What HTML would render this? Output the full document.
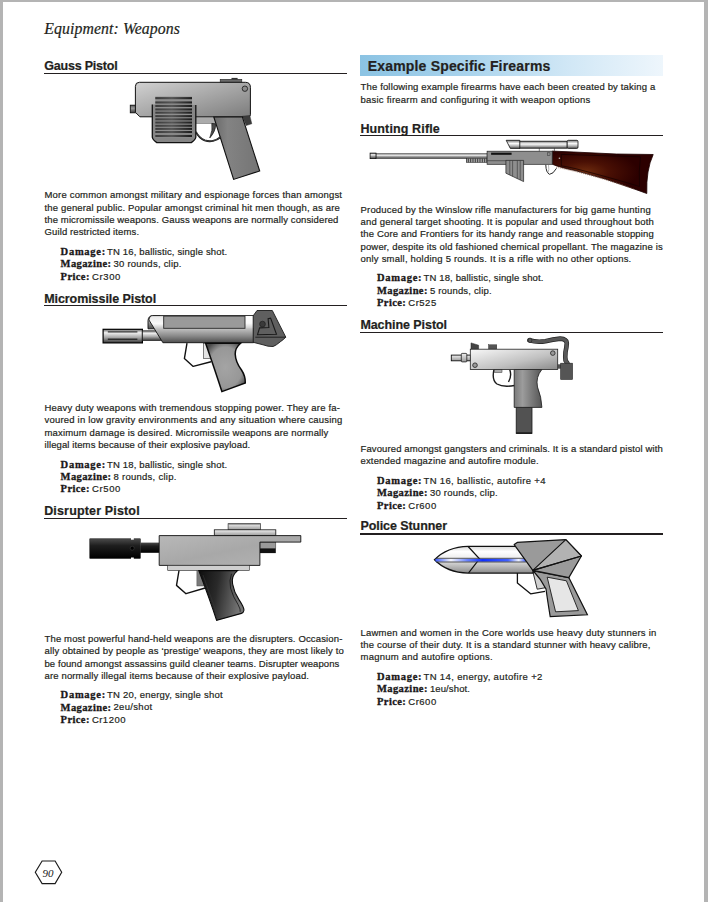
<!DOCTYPE html>
<html><head><meta charset="utf-8"><style>
html,body{margin:0;padding:0;}
body{width:708px;height:902px;position:relative;overflow:hidden;background:#fff;}
.t{position:absolute;white-space:nowrap;line-height:0;-webkit-text-stroke:0.2px #231f20;}
.r{position:absolute;}
.bl{position:absolute;background:#b4b4b4;}
svg{position:absolute;left:0;top:0;}
</style></head><body>
<div class="bl" style="left:0;top:0;width:708px;height:2px"></div>
<div class="bl" style="left:0;top:0;width:3px;height:902px"></div>
<div class="bl" style="left:704px;top:0;width:4px;height:902px"></div>
<svg width="708" height="902" viewBox="0 0 708 902">
<defs>
<linearGradient id="gaussBody" x1="0" y1="0" x2="1" y2="1"><stop offset="0" stop-color="#d2d2d2"/><stop offset="1" stop-color="#7c7c7c"/></linearGradient>
<linearGradient id="gaussGrip" x1="0" y1="0" x2="1" y2="0"><stop offset="0" stop-color="#6a6a6a"/><stop offset="0.3" stop-color="#838383"/><stop offset="1" stop-color="#747474"/></linearGradient>
<linearGradient id="muz" x1="0" y1="0" x2="0" y2="1"><stop offset="0" stop-color="#555"/><stop offset="0.4" stop-color="#9a9a9a"/><stop offset="1" stop-color="#3a3a3a"/></linearGradient>
<linearGradient id="grill" x1="0" y1="0" x2="1" y2="0"><stop offset="0" stop-color="#3a3a3a"/><stop offset="0.45" stop-color="#555"/><stop offset="1" stop-color="#1c1c1c"/></linearGradient>
<linearGradient id="mmTube" x1="0" y1="0" x2="0" y2="1"><stop offset="0" stop-color="#666"/><stop offset="0.25" stop-color="#f0f0f0"/><stop offset="0.6" stop-color="#a8a8a8"/><stop offset="1" stop-color="#333"/></linearGradient>
<linearGradient id="mmBody" x1="0" y1="0" x2="0" y2="1"><stop offset="0" stop-color="#e8e8e8"/><stop offset="0.3" stop-color="#fafafa"/><stop offset="0.5" stop-color="#bdbdbd"/><stop offset="0.75" stop-color="#8a8a8a"/><stop offset="1" stop-color="#4e4e4e"/></linearGradient>
<linearGradient id="mmTab" x1="0" y1="0" x2="0" y2="1"><stop offset="0" stop-color="#eee"/><stop offset="1" stop-color="#4a4a4a"/></linearGradient>
<linearGradient id="mmWhite" x1="0" y1="0" x2="0" y2="1"><stop offset="0" stop-color="#fff"/><stop offset="0.6" stop-color="#fafafa"/><stop offset="1" stop-color="#d0d0d0"/></linearGradient>
<radialGradient id="mmGrip" cx="0.5" cy="0.5" r="0.6"><stop offset="0" stop-color="#a4a4a4"/><stop offset="0.7" stop-color="#979797"/><stop offset="1" stop-color="#4a4a4a"/></radialGradient>
<linearGradient id="blk" x1="0" y1="0" x2="0" y2="1"><stop offset="0" stop-color="#4a4a4a"/><stop offset="0.35" stop-color="#1e1e1e"/><stop offset="1" stop-color="#000"/></linearGradient>
<linearGradient id="steel" x1="0" y1="0" x2="1" y2="1"><stop offset="0" stop-color="#b8b8b8"/><stop offset="0.5" stop-color="#a8a8a8"/><stop offset="1" stop-color="#b4b4b4"/></linearGradient>
<linearGradient id="steelV" x1="0" y1="0" x2="0" y2="1"><stop offset="0" stop-color="#f0f0f0"/><stop offset="1" stop-color="#9a9a9a"/></linearGradient>
<linearGradient id="disGrip" x1="0" y1="0" x2="1" y2="0.2"><stop offset="0" stop-color="#0e0e0e"/><stop offset="0.45" stop-color="#2a2a2a"/><stop offset="1" stop-color="#757575"/></linearGradient>
<linearGradient id="barrel" x1="0" y1="0" x2="0" y2="1"><stop offset="0" stop-color="#666"/><stop offset="0.3" stop-color="#f4f4f4"/><stop offset="0.6" stop-color="#9a9a9a"/><stop offset="1" stop-color="#444"/></linearGradient>
<linearGradient id="scope" x1="0" y1="0" x2="0" y2="1"><stop offset="0" stop-color="#6a6a6a"/><stop offset="0.15" stop-color="#a8a8a8"/><stop offset="0.4" stop-color="#fafafa"/><stop offset="0.7" stop-color="#b4b4b4"/><stop offset="1" stop-color="#555"/></linearGradient>
<radialGradient id="stock" gradientUnits="userSpaceOnUse" cx="585" cy="172" r="38" gradientTransform="translate(585 172) scale(1.4 0.6) rotate(18) translate(-585 -172)"><stop offset="0" stop-color="#6e2c0e"/><stop offset="0.45" stop-color="#4a1004"/><stop offset="1" stop-color="#2c0000"/></radialGradient>
<linearGradient id="mpBody" x1="0" y1="0" x2="1" y2="1"><stop offset="0" stop-color="#f8f8f8"/><stop offset="0.6" stop-color="#c0c0c0"/><stop offset="1" stop-color="#8a8a8a"/></linearGradient>
<linearGradient id="mpGrip" x1="0" y1="0" x2="1" y2="0"><stop offset="0" stop-color="#7a7a7a"/><stop offset="0.3" stop-color="#9c9c9c"/><stop offset="1" stop-color="#555"/></linearGradient>
<linearGradient id="stTube" x1="0" y1="0" x2="0" y2="1"><stop offset="0" stop-color="#d8d8d8"/><stop offset="0.2" stop-color="#fff"/><stop offset="0.5" stop-color="#e8e8e8"/><stop offset="1" stop-color="#8a8a8a"/></linearGradient>
<linearGradient id="blueL" x1="0" y1="0" x2="1" y2="0"><stop offset="0" stop-color="#3a5aff"/><stop offset="0.17" stop-color="#f4f6ff"/><stop offset="0.35" stop-color="#6a84ff"/><stop offset="0.52" stop-color="#1030ff"/><stop offset="0.8" stop-color="#4060ff"/><stop offset="0.92" stop-color="#f0f4ff"/><stop offset="1" stop-color="#3050ff"/></linearGradient>
</defs>

<!-- ============ GAUSS PISTOL ============ -->
<g id="gauss">
 <rect x="220.2" y="79.3" width="21.6" height="3.5" fill="#6a6a6a" stroke="#222" stroke-width="0.6"/>
 <rect x="231.5" y="77.9" width="6.1" height="1.6" fill="#333"/>
 <rect x="130.3" y="105.2" width="5.4" height="7.6" fill="url(#muz)" stroke="#111" stroke-width="0.9"/>
 <path d="M139.4,82.3 L245.4,82.3 Q250.4,82.3 250.4,87.3 L250.4,114.8 Q250.4,116.8 248.4,116.8 L139.9,116.8 L135.4,112.3 L135.4,86.3 Q135.4,82.3 139.4,82.3 Z" fill="url(#gaussBody)" stroke="#111" stroke-width="1.0"/>
 <circle cx="244.9" cy="88.7" r="2.7" fill="#8c8c8c" stroke="#222" stroke-width="0.9"/>
 <rect x="195.8" y="117.6" width="19.5" height="5.8" fill="#ababab" stroke="#555" stroke-width="0.5"/>
 <polygon points="242.4,116.2 249.8,115.4 251.8,123.8 246.1,125.6" fill="#3c3c3c" stroke="#222" stroke-width="0.4"/>
 <polygon points="213.8,117 242.4,117 259.7,171.0 233.6,179.4" fill="url(#gaussGrip)" stroke="#111" stroke-width="1.1"/>
 <path d="M211.8,123.4 L215.6,123.9 Q216,131 209.8,137.9 Q213,130 211.8,123.4 Z" fill="#4a4a4a" stroke="#111" stroke-width="0.7"/>
 <path d="M195.9,131.8 Q199,138 204.7,140.4 Q209,141.8 213,140.9 Q217.5,139.8 220.8,137" fill="none" stroke="#111" stroke-width="1.8"/><path d="M195.9,131.8 Q199,138 204.7,140.4 Q209,141.8 213,140.9 Q217.5,139.8 220.8,137" fill="none" stroke="#777" stroke-width="0.5"/>
 <path d="M152.3,104.4 L152.3,137.2 Q152.5,139.5 156.8,142.6 L191.3,142.6 Q195.6,139.5 195.8,137.2 L195.8,104.9" fill="#858585" stroke="#111" stroke-width="1.3"/>
 <rect x="155.3" y="96.6" width="36.7" height="41" fill="#8e8e8e"/>
 <g fill="url(#grill)">
  <rect x="155.3" y="97.1" width="36.7" height="2.1"/>
  <rect x="155.3" y="101.4" width="36.7" height="2.1"/>
  <rect x="155.3" y="104.9" width="36.7" height="2.1"/>
  <rect x="155.3" y="108.4" width="36.7" height="2.1"/>
  <rect x="155.3" y="111.6" width="36.7" height="2.1"/>
  <rect x="155.3" y="115.1" width="36.7" height="2.1"/>
  <rect x="155.3" y="118.3" width="36.7" height="2.1"/>
  <rect x="155.3" y="121.5" width="36.7" height="2.1"/>
  <rect x="155.3" y="124.7" width="36.7" height="2.1"/>
  <rect x="155.3" y="127.8" width="36.7" height="2.1"/>
  <rect x="155.3" y="131.0" width="36.7" height="2.1"/>
  <rect x="155.3" y="134.9" width="36.7" height="2.1"/>
 </g>
</g>

<!-- ============ MICROMISSILE PISTOL ============ -->
<g id="micro">
 <rect x="103.1" y="329.3" width="39.3" height="13.6" fill="url(#mmTube)" stroke="#000" stroke-width="1.2"/>
 <line x1="107.8" y1="331.9" x2="137.4" y2="331.9" stroke="#222" stroke-width="1.1"/>
 <line x1="107.8" y1="339.2" x2="137.4" y2="339.2" stroke="#111" stroke-width="1.1"/>
 <rect x="142.4" y="330.8" width="18.3" height="9.8" fill="url(#mmTube)" stroke="#222" stroke-width="0.7"/>
 <path d="M148,328.8 L148,320.5 Q148.5,315.6 152.7,315.6 L160,315.6 L160,328.8 Z" fill="url(#mmTab)" stroke="#111" stroke-width="0.9"/>
 <path d="M152.7,315.6 L253.6,315.6 L253.6,342.7 L162.9,342.7 L148.9,319.9 Q149.5,315.6 152.7,315.6 Z" fill="url(#mmBody)" stroke="#111" stroke-width="0.9"/>
 <rect x="245" y="316" width="8.6" height="12" fill="url(#mmWhite)"/>
 <rect x="163.7" y="316.1" width="81.3" height="12.2" fill="#9a9a9a" stroke="#2a2a2a" stroke-width="0.9"/>
 <path d="M257,310.5 L272.3,310.5 L285.8,337.2 Q283,340 280.8,341.4 Q276,345.5 273.1,346.5 Q268,346.8 263,344.8 L253.2,342.3 L253.2,315.8 Z" fill="#5f5f5f" stroke="#1a1a1a" stroke-width="0.9"/>
 <line x1="255.3" y1="337.2" x2="285.8" y2="337.2" stroke="#1a1a1a" stroke-width="0.9"/>
 <path d="M257.5,334.7 L259.6,327.9 L268.9,327.5 L268.1,318.6 L270.6,318.1 L276.5,334.2 Z" fill="none" stroke="#1a1a1a" stroke-width="1.1"/>
 <circle cx="262.5" cy="324.1" r="2.9" fill="#3a3a3a" stroke="#1a1a1a" stroke-width="0.6"/>
 <rect x="203.3" y="343.4" width="7" height="15.2" fill="#e4e4e4" stroke="#333" stroke-width="0.6"/>
 <polyline points="187,343.2 184.4,358.6 193.2,366.4 211,361.7" fill="none" stroke="#111" stroke-width="1.4" stroke-linejoin="round"/>
 <path d="M205.6,343.2 L240.6,343.2 Q235,348 235.2,354 Q235.5,362 241.5,370 Q245.5,376 245.3,383 L221.9,391.6 Q215,370 205.6,343.2 Z" fill="url(#mmGrip)" stroke="#0a0a0a" stroke-width="1.5"/>
</g>

<!-- ============ DISRUPTER PISTOL ============ -->
<g id="disrupter">
 <rect x="89.8" y="538.8" width="50.5" height="19.6" fill="url(#blk)" stroke="#000" stroke-width="0.5"/>
 <rect x="131" y="537.5" width="2.8" height="2.2" fill="#fff"/>
 <rect x="131" y="557.5" width="2.8" height="2.2" fill="#fff"/>
 <circle cx="132.2" cy="548.2" r="2" fill="#000" stroke="#555" stroke-width="0.4"/>
 <rect x="140.3" y="542.6" width="19.1" height="10.2" fill="url(#blk)"/>
 <rect x="259.9" y="542.1" width="15.9" height="6.4" fill="#9a9a9a" stroke="#333" stroke-width="0.5"/>
 <rect x="259.9" y="548.5" width="15.9" height="4.6" fill="#111"/>
 <rect x="228.1" y="523.7" width="32.4" height="6.1" fill="url(#steelV)" stroke="#333" stroke-width="0.7"/><line x1="228.1" y1="523.7" x2="260.5" y2="523.7" stroke="#666" stroke-width="1.4"/>
 <rect x="214.3" y="529.8" width="61.5" height="5.8" fill="url(#steelV)" stroke="#111" stroke-width="0.8"/>
 
 <path d="M159.2,535.6 L300.8,535.6 L300.8,542.1 L259.9,542.1 L259.9,565.4 L159.2,565.4 Z" fill="url(#steel)" stroke="#111" stroke-width="0.9"/>
 <rect x="167.7" y="565.4" width="81.6" height="5.1" fill="#cfcfcf" stroke="#222" stroke-width="0.6"/>
 <polyline points="179,570.5 176.5,585.4 186,593.7 205.1,588" fill="none" stroke="#111" stroke-width="1.4" stroke-linejoin="round"/>
 <rect x="196.9" y="570.5" width="7" height="15.5" fill="#7a7a7a" stroke="#333" stroke-width="0.4"/>
 <path d="M198.8,570.6 L237.5,570.6 Q231,576 232.6,584 Q234,592 238.8,599.4 Q244.5,608 243.9,610.5 Q243.5,612.8 241.4,613.4 L216.6,620.4 Q210,600 198.8,570.6 Z" fill="url(#disGrip)" stroke="#0a0a0a" stroke-width="1.1"/>
 <path d="M231.5,573.8 Q229,580 230.5,588 Q233,597 238,604.5 Q241,610 240.2,611.8" fill="none" stroke="#0a0a0a" stroke-width="0.7"/>
 <path d="M203,575 Q209,592 216,611" fill="none" stroke="#3a3a3a" stroke-width="0.5"/>
</g>

<!-- ============ HUNTING RIFLE ============ -->
<g id="rifle">
 <rect x="375.9" y="153.7" width="111.2" height="4.9" fill="url(#barrel)" stroke="#333" stroke-width="0.5"/>
 <rect x="370.1" y="153.1" width="5.9" height="5.5" fill="url(#barrel)" stroke="#111" stroke-width="0.8"/>
 <rect x="466.4" y="158.3" width="20.7" height="4.3" fill="#cfcfcf" stroke="#222" stroke-width="0.5"/>
 <g stroke="#2a2a2a" stroke-width="0.9"><line x1="466.90" y1="158.5" x2="466.90" y2="162.4"/><line x1="468.65" y1="158.5" x2="468.65" y2="162.4"/><line x1="470.40" y1="158.5" x2="470.40" y2="162.4"/><line x1="472.15" y1="158.5" x2="472.15" y2="162.4"/><line x1="473.90" y1="158.5" x2="473.90" y2="162.4"/><line x1="475.65" y1="158.5" x2="475.65" y2="162.4"/><line x1="477.40" y1="158.5" x2="477.40" y2="162.4"/><line x1="479.15" y1="158.5" x2="479.15" y2="162.4"/><line x1="480.90" y1="158.5" x2="480.90" y2="162.4"/><line x1="482.65" y1="158.5" x2="482.65" y2="162.4"/><line x1="484.40" y1="158.5" x2="484.40" y2="162.4"/><line x1="486.15" y1="158.5" x2="486.15" y2="162.4"/></g>
 <path d="M552.2,151.1 L573.9,152 L616.3,154 L653.2,154.5 Q646,170 646.8,193.5 L634.9,189.2 Q605,178 575,170.5 Q560,167.5 552.2,164.2 Z" fill="url(#stock)" stroke="#1a0000" stroke-width="0.8"/>
 <path d="M561.3,154.4 L640.5,156.8 Q638.5,172 639.5,186.5 Q612,178 575,168.5 Q566,166.5 561.3,165.8 Z" fill="none" stroke="#120000" stroke-width="0.7"/>
 <path d="M556,167.2 Q590,174 634.9,189.2" fill="none" stroke="#7a3a1a" stroke-width="0.6" stroke-dasharray="1,1"/>
 <circle cx="559.4" cy="158.3" r="0.8" fill="#bbb"/>
 <path d="M545.8,164.8 Q546,172.8 549.5,174.3 Q553,174.3 556.5,168.3" fill="none" stroke="#111" stroke-width="0.9"/>
 <path d="M548.5,165 Q549.5,170 547.8,173" fill="none" stroke="#999" stroke-width="0.7"/>
 <rect x="487.1" y="151.2" width="65.1" height="13.1" fill="#8e8e8e" stroke="#222" stroke-width="0.7"/>
 <line x1="487.1" y1="160.7" x2="506" y2="160.7" stroke="#333" stroke-width="0.6"/>
 <rect x="491.1" y="152.7" width="20.5" height="2.1" fill="#111"/>
 <rect x="547.4" y="152.8" width="2.6" height="2.6" fill="none" stroke="#333" stroke-width="0.5"/>
 <polygon points="505.9,160.4 523.6,160.4 523.6,181.6 505.9,173.2" fill="#8e8e8e" stroke="#222" stroke-width="0.7"/>
 <g stroke="#333" stroke-width="0.6"><line x1="509.8" y1="160.6" x2="509.8" y2="175"/><line x1="512.6" y1="160.6" x2="512.6" y2="176.4"/><line x1="517.3" y1="160.6" x2="517.3" y2="178.6"/><line x1="520.2" y1="160.6" x2="520.2" y2="180"/></g>
 <line x1="539.3" y1="148.2" x2="539.3" y2="151.2" stroke="#333" stroke-width="0.6"/>
 <line x1="554.4" y1="148.2" x2="554.4" y2="151.2" stroke="#333" stroke-width="0.6"/>
 <rect x="519.5" y="141.2" width="47.7" height="7" fill="url(#scope)" stroke="#111" stroke-width="0.8"/>
 <polygon points="506.2,140.3 519.8,140.3 519.8,148.4 510.3,148.4" fill="url(#scope)" stroke="#111" stroke-width="0.8"/>
 <rect x="567.2" y="140.3" width="10.8" height="8.1" rx="1.2" fill="url(#scope)" stroke="#111" stroke-width="0.8"/>
</g>

<!-- ============ MACHINE PISTOL ============ -->
<g id="mpistol">
 <path d="M529.3,340.3 Q537,342.5 545.4,341.2 Q553,339.5 560.2,338.6 Q566.5,339 566.8,343 Q566.5,348 565.5,352 Q565,357 565.6,360.5 L567.6,363.5" fill="none" stroke="#222" stroke-width="4.6" stroke-linecap="round" stroke-linejoin="round"/>
 <path d="M529.3,340.3 Q537,342.5 545.4,341.2 Q553,339.5 560.2,338.6 Q566.5,339 566.8,343 Q566.5,348 565.5,352 Q565,357 565.6,360.5 L567.6,363.5" fill="none" stroke="#585858" stroke-width="3.3" stroke-linecap="round" stroke-linejoin="round"/>
 <ellipse cx="530" cy="340.3" rx="1.8" ry="2.3" fill="#5a5a5a" stroke="#222" stroke-width="0.6"/>
 <rect x="451.3" y="355.1" width="19.2" height="5.7" fill="url(#steelV)" stroke="#111" stroke-width="0.9"/>
 <rect x="461.3" y="353.4" width="5.5" height="8.5" rx="0.8" fill="url(#steelV)" stroke="#222" stroke-width="0.8"/>
 <polygon points="471,349.5 471,342.9 478.6,345.2 478.6,349.5" fill="#444" stroke="#222" stroke-width="0.5"/>
 <rect x="488.5" y="344.8" width="8.3" height="4.6" fill="#555" stroke="#222" stroke-width="0.4"/>
 <rect x="557.7" y="364.3" width="3.2" height="4.4" fill="#555"/>
 <rect x="560.7" y="363.2" width="11.8" height="16.2" fill="#555" stroke="#222" stroke-width="0.6"/>
 <path d="M494,369.5 Q491.5,380 497,384 Q503,387.5 514.5,385.5" fill="none" stroke="#1a1a1a" stroke-width="1.4"/>
 <rect x="494.5" y="369.5" width="7.5" height="3" fill="#aaa" stroke="#333" stroke-width="0.5"/>
 <path d="M509.8,369.8 Q512,376 508.5,382" fill="none" stroke="#1a1a1a" stroke-width="1.4"/>
 <rect x="516.2" y="407.4" width="15.8" height="26" fill="#525252" stroke="#1a1a1a" stroke-width="0.8"/><line x1="516.2" y1="433" x2="532" y2="433" stroke="#111" stroke-width="1.2"/>
 <path d="M514.2,369.5 L541.9,369.5 Q535.5,377 537.5,387 Q541.5,397 541.9,407.4 L514.2,407.4 Z" fill="url(#mpGrip)" stroke="#1a1a1a" stroke-width="0.8"/>
 <rect x="470.3" y="349.2" width="87.4" height="20.3" fill="url(#mpBody)" stroke="#222" stroke-width="0.8"/>
 <circle cx="552.8" cy="353.1" r="2.3" fill="#9a9a9a" stroke="#222" stroke-width="0.8"/>
 <circle cx="475" cy="365.2" r="2.3" fill="#9a9a9a" stroke="#222" stroke-width="0.8"/>
</g>

<!-- ============ POLICE STUNNER ============ -->
<g id="stunner">
 <polyline points="517.4,572.5 517.4,583 530.6,593.8 545,591.4" fill="none" stroke="#111" stroke-width="1.3" stroke-linejoin="round"/>
 <polygon points="533,572.2 542.6,573.4 545,587.8 537.2,589.2" fill="#d0d0d0" stroke="#1a1a1a" stroke-width="0.9"/>
 <path d="M533.4,571 L568.8,577.6 L587.4,614.8 L550.2,616.6 Q547.5,600 546,589 Q541,579 533.4,571 Z" fill="#9a9a9a" stroke="#111" stroke-width="1.2"/>
 <polygon points="547.2,577.2 566.4,580.8 578.4,610.6 555.6,611.8" fill="#e6e6e6" stroke="#1a1a1a" stroke-width="0.9"/>
 <path d="M434.5,559.7 Q447,546.8 468.2,546.3 L533,546.3 L533,573.1 L468.2,573.1 Q447,572.5 434.5,559.7 Z" fill="url(#stTube)" stroke="#111" stroke-width="1.3"/>
 <polyline points="468.1,546.5 479.5,558.8 468.6,572.8" fill="none" stroke="#111" stroke-width="1.2"/>
 <rect x="435.5" y="558.7" width="90.5" height="3" fill="url(#blueL)"/>
 <line x1="436" y1="558.3" x2="526" y2="558.3" stroke="#333" stroke-width="0.8"/>
 <line x1="436" y1="562.0" x2="526" y2="562.0" stroke="#333" stroke-width="0.8"/>
 <polygon points="514.2,544.6 517.2,542.4 565.8,539.6 581.4,556 568.8,577.6 532.8,570.4" fill="#9a9a9a" stroke="#111" stroke-width="1.2" stroke-linejoin="round"/>
 <polygon points="532.8,570.4 565.8,539.6 581.4,556" fill="#b2b2b2" stroke="#111" stroke-width="1.1" stroke-linejoin="round"/>
 <line x1="532.8" y1="570.4" x2="581.4" y2="556" stroke="#111" stroke-width="1.1"/>
</g>

<!-- page number hexagon -->
<polygon points="42.1,861 55.1,861 61.7,872.3 55.1,883.6 42.1,883.6 35.3,872.3" fill="none" stroke="#1a1a1a" stroke-width="1.15"/>
</svg>

<div class="r" style="left:44.00px;top:72.70px;width:303.00px;height:1.2px;background:#231f20"></div>
<div class="r" style="left:44.00px;top:304.90px;width:303.00px;height:1.2px;background:#231f20"></div>
<div class="r" style="left:44.00px;top:517.70px;width:303.00px;height:1.2px;background:#231f20"></div>
<div class="r" style="left:360px;top:55px;width:303px;height:20.8px;background:linear-gradient(to right,#8bc3e3 0%,#a9d3ec 35%,#d2e8f6 70%,#eef6fc 100%)"></div>
<div class="r" style="left:360.20px;top:134.80px;width:302.80px;height:1.2px;background:#231f20"></div>
<div class="r" style="left:360.20px;top:332.00px;width:302.80px;height:1.2px;background:#231f20"></div>
<div class="r" style="left:360.20px;top:533.40px;width:302.80px;height:1.2px;background:#231f20"></div>
<div class="t" style="left:44.20px;top:29.07px;font-size:15.8px;font-family:'Liberation Serif', serif;font-weight:normal;font-style:italic;letter-spacing:0.095px;color:#231f20;">Equipment: Weapons</div>
<div class="t" style="left:44.20px;top:66.47px;font-size:12.5px;font-family:'Liberation Sans', sans-serif;font-weight:bold;font-style:normal;letter-spacing:-0.199px;color:#231f20;">Gauss Pistol</div>
<div class="t" style="left:44.50px;top:195.21px;font-size:9.5px;font-family:'Liberation Sans', sans-serif;font-weight:normal;font-style:normal;letter-spacing:0.185px;color:#231f20;">More common amongst military and espionage forces than amongst</div>
<div class="t" style="left:44.50px;top:207.61px;font-size:9.5px;font-family:'Liberation Sans', sans-serif;font-weight:normal;font-style:normal;letter-spacing:0.161px;color:#231f20;">the general public. Popular amongst criminal hit men though, as are</div>
<div class="t" style="left:44.50px;top:219.91px;font-size:9.5px;font-family:'Liberation Sans', sans-serif;font-weight:normal;font-style:normal;letter-spacing:0.124px;color:#231f20;">the micromissile weapons. Gauss weapons are normally considered</div>
<div class="t" style="left:44.50px;top:232.21px;font-size:9.5px;font-family:'Liberation Sans', sans-serif;font-weight:normal;font-style:normal;letter-spacing:0.122px;color:#231f20;">Guild restricted items.</div>
<div class="t" style="left:60.60px;top:252.26px;font-size:10.5px;font-family:'Liberation Serif', serif;font-weight:bold;font-style:normal;letter-spacing:0.730px;color:#1a1718;-webkit-text-stroke:0.3px #1a1718">Damage:</div>
<div class="t" style="left:107.10px;top:252.01px;font-size:9.5px;font-family:'Liberation Sans', sans-serif;font-weight:normal;font-style:normal;letter-spacing:0.153px;color:#231f20;">TN 16, ballistic, single shot.</div>
<div class="t" style="left:60.60px;top:264.06px;font-size:10.5px;font-family:'Liberation Serif', serif;font-weight:bold;font-style:normal;letter-spacing:0.398px;color:#1a1718;-webkit-text-stroke:0.3px #1a1718">Magazine:</div>
<div class="t" style="left:113.50px;top:263.81px;font-size:9.5px;font-family:'Liberation Sans', sans-serif;font-weight:normal;font-style:normal;letter-spacing:0.236px;color:#231f20;">30 rounds, clip.</div>
<div class="t" style="left:60.60px;top:276.86px;font-size:10.5px;font-family:'Liberation Serif', serif;font-weight:bold;font-style:normal;letter-spacing:0.403px;color:#1a1718;-webkit-text-stroke:0.3px #1a1718">Price:</div>
<div class="t" style="left:91.90px;top:276.61px;font-size:9.5px;font-family:'Liberation Sans', sans-serif;font-weight:normal;font-style:normal;letter-spacing:0.649px;color:#231f20;">Cr300</div>
<div class="t" style="left:44.20px;top:298.77px;font-size:12.5px;font-family:'Liberation Sans', sans-serif;font-weight:bold;font-style:normal;letter-spacing:-0.071px;color:#231f20;">Micromissile Pistol</div>
<div class="t" style="left:44.50px;top:408.01px;font-size:9.5px;font-family:'Liberation Sans', sans-serif;font-weight:normal;font-style:normal;letter-spacing:0.195px;color:#231f20;">Heavy duty weapons with tremendous stopping power. They are fa-</div>
<div class="t" style="left:44.50px;top:420.31px;font-size:9.5px;font-family:'Liberation Sans', sans-serif;font-weight:normal;font-style:normal;letter-spacing:0.204px;color:#231f20;">voured in low gravity environments and any situation where causing</div>
<div class="t" style="left:44.50px;top:432.61px;font-size:9.5px;font-family:'Liberation Sans', sans-serif;font-weight:normal;font-style:normal;letter-spacing:0.158px;color:#231f20;">maximum damage is desired. Micromissile weapons are normally</div>
<div class="t" style="left:44.50px;top:444.71px;font-size:9.5px;font-family:'Liberation Sans', sans-serif;font-weight:normal;font-style:normal;letter-spacing:0.104px;color:#231f20;">illegal items because of their explosive payload.</div>
<div class="t" style="left:60.60px;top:465.16px;font-size:10.5px;font-family:'Liberation Serif', serif;font-weight:bold;font-style:normal;letter-spacing:0.730px;color:#1a1718;-webkit-text-stroke:0.3px #1a1718">Damage:</div>
<div class="t" style="left:107.10px;top:464.91px;font-size:9.5px;font-family:'Liberation Sans', sans-serif;font-weight:normal;font-style:normal;letter-spacing:0.153px;color:#231f20;">TN 18, ballistic, single shot.</div>
<div class="t" style="left:60.60px;top:477.06px;font-size:10.5px;font-family:'Liberation Serif', serif;font-weight:bold;font-style:normal;letter-spacing:0.398px;color:#1a1718;-webkit-text-stroke:0.3px #1a1718">Magazine:</div>
<div class="t" style="left:113.50px;top:476.81px;font-size:9.5px;font-family:'Liberation Sans', sans-serif;font-weight:normal;font-style:normal;letter-spacing:0.265px;color:#231f20;">8 rounds, clip.</div>
<div class="t" style="left:60.60px;top:489.06px;font-size:10.5px;font-family:'Liberation Serif', serif;font-weight:bold;font-style:normal;letter-spacing:0.403px;color:#1a1718;-webkit-text-stroke:0.3px #1a1718">Price:</div>
<div class="t" style="left:91.90px;top:488.81px;font-size:9.5px;font-family:'Liberation Sans', sans-serif;font-weight:normal;font-style:normal;letter-spacing:0.649px;color:#231f20;">Cr500</div>
<div class="t" style="left:44.20px;top:511.47px;font-size:12.5px;font-family:'Liberation Sans', sans-serif;font-weight:bold;font-style:normal;letter-spacing:0.158px;color:#231f20;">Disrupter Pistol</div>
<div class="t" style="left:44.50px;top:639.01px;font-size:9.5px;font-family:'Liberation Sans', sans-serif;font-weight:normal;font-style:normal;letter-spacing:0.149px;color:#231f20;">The most powerful hand-held weapons are the disrupters. Occasion-</div>
<div class="t" style="left:44.50px;top:651.41px;font-size:9.5px;font-family:'Liberation Sans', sans-serif;font-weight:normal;font-style:normal;letter-spacing:0.165px;color:#231f20;">ally obtained by people as &#8216;prestige&#8217; weapons, they are most likely to</div>
<div class="t" style="left:44.50px;top:663.71px;font-size:9.5px;font-family:'Liberation Sans', sans-serif;font-weight:normal;font-style:normal;letter-spacing:0.076px;color:#231f20;">be found amongst assassins guild cleaner teams. Disrupter weapons</div>
<div class="t" style="left:44.50px;top:676.01px;font-size:9.5px;font-family:'Liberation Sans', sans-serif;font-weight:normal;font-style:normal;letter-spacing:0.146px;color:#231f20;">are normally illegal items because of their explosive payload.</div>
<div class="t" style="left:60.60px;top:695.26px;font-size:10.5px;font-family:'Liberation Serif', serif;font-weight:bold;font-style:normal;letter-spacing:0.730px;color:#1a1718;-webkit-text-stroke:0.3px #1a1718">Damage:</div>
<div class="t" style="left:107.10px;top:695.01px;font-size:9.5px;font-family:'Liberation Sans', sans-serif;font-weight:normal;font-style:normal;letter-spacing:0.211px;color:#231f20;">TN 20, energy, single shot</div>
<div class="t" style="left:60.60px;top:707.56px;font-size:10.5px;font-family:'Liberation Serif', serif;font-weight:bold;font-style:normal;letter-spacing:0.398px;color:#1a1718;-webkit-text-stroke:0.3px #1a1718">Magazine:</div>
<div class="t" style="left:113.50px;top:707.31px;font-size:9.5px;font-family:'Liberation Sans', sans-serif;font-weight:normal;font-style:normal;letter-spacing:0.317px;color:#231f20;">2eu/shot</div>
<div class="t" style="left:60.60px;top:719.86px;font-size:10.5px;font-family:'Liberation Serif', serif;font-weight:bold;font-style:normal;letter-spacing:0.403px;color:#1a1718;-webkit-text-stroke:0.3px #1a1718">Price:</div>
<div class="t" style="left:91.90px;top:719.61px;font-size:9.5px;font-family:'Liberation Sans', sans-serif;font-weight:normal;font-style:normal;letter-spacing:0.480px;color:#231f20;">Cr1200</div>
<div class="t" style="left:367.70px;top:65.65px;font-size:14px;font-family:'Liberation Sans', sans-serif;font-weight:bold;font-style:normal;letter-spacing:0.185px;color:#231f20;">Example Specific Firearms</div>
<div class="t" style="left:360.50px;top:87.01px;font-size:9.5px;font-family:'Liberation Sans', sans-serif;font-weight:normal;font-style:normal;letter-spacing:0.157px;color:#231f20;">The following example firearms have each been created by taking a</div>
<div class="t" style="left:360.50px;top:100.11px;font-size:9.5px;font-family:'Liberation Sans', sans-serif;font-weight:normal;font-style:normal;letter-spacing:0.231px;color:#231f20;">basic firearm and configuring it with weapon options</div>
<div class="t" style="left:360.40px;top:128.57px;font-size:12.5px;font-family:'Liberation Sans', sans-serif;font-weight:bold;font-style:normal;letter-spacing:0.132px;color:#231f20;">Hunting Rifle</div>
<div class="t" style="left:360.50px;top:209.81px;font-size:9.5px;font-family:'Liberation Sans', sans-serif;font-weight:normal;font-style:normal;letter-spacing:0.197px;color:#231f20;">Produced by the Winslow rifle manufacturers for big game hunting</div>
<div class="t" style="left:360.50px;top:222.11px;font-size:9.5px;font-family:'Liberation Sans', sans-serif;font-weight:normal;font-style:normal;letter-spacing:0.186px;color:#231f20;">and general target shooting. It is popular and used throughout both</div>
<div class="t" style="left:360.50px;top:234.31px;font-size:9.5px;font-family:'Liberation Sans', sans-serif;font-weight:normal;font-style:normal;letter-spacing:0.157px;color:#231f20;">the Core and Frontiers for its handy range and reasonable stopping</div>
<div class="t" style="left:360.50px;top:246.61px;font-size:9.5px;font-family:'Liberation Sans', sans-serif;font-weight:normal;font-style:normal;letter-spacing:0.153px;color:#231f20;">power, despite its old fashioned chemical propellant. The magazine is</div>
<div class="t" style="left:360.50px;top:258.91px;font-size:9.5px;font-family:'Liberation Sans', sans-serif;font-weight:normal;font-style:normal;letter-spacing:0.217px;color:#231f20;">only small, holding 5 rounds. It is a rifle with no other options.</div>
<div class="t" style="left:377.00px;top:278.46px;font-size:10.5px;font-family:'Liberation Serif', serif;font-weight:bold;font-style:normal;letter-spacing:0.730px;color:#1a1718;-webkit-text-stroke:0.3px #1a1718">Damage:</div>
<div class="t" style="left:423.50px;top:278.21px;font-size:9.5px;font-family:'Liberation Sans', sans-serif;font-weight:normal;font-style:normal;letter-spacing:0.149px;color:#231f20;">TN 18, ballistic, single shot.</div>
<div class="t" style="left:377.00px;top:290.76px;font-size:10.5px;font-family:'Liberation Serif', serif;font-weight:bold;font-style:normal;letter-spacing:0.398px;color:#1a1718;-webkit-text-stroke:0.3px #1a1718">Magazine:</div>
<div class="t" style="left:429.90px;top:290.51px;font-size:9.5px;font-family:'Liberation Sans', sans-serif;font-weight:normal;font-style:normal;letter-spacing:0.180px;color:#231f20;">5 rounds, clip.</div>
<div class="t" style="left:377.00px;top:303.06px;font-size:10.5px;font-family:'Liberation Serif', serif;font-weight:bold;font-style:normal;letter-spacing:0.403px;color:#1a1718;-webkit-text-stroke:0.3px #1a1718">Price:</div>
<div class="t" style="left:408.30px;top:302.81px;font-size:9.5px;font-family:'Liberation Sans', sans-serif;font-weight:normal;font-style:normal;letter-spacing:0.499px;color:#231f20;">Cr525</div>
<div class="t" style="left:360.40px;top:325.27px;font-size:12.5px;font-family:'Liberation Sans', sans-serif;font-weight:bold;font-style:normal;letter-spacing:-0.068px;color:#231f20;">Machine Pistol</div>
<div class="t" style="left:360.50px;top:448.91px;font-size:9.5px;font-family:'Liberation Sans', sans-serif;font-weight:normal;font-style:normal;letter-spacing:0.117px;color:#231f20;">Favoured amongst gangsters and criminals. It is a standard pistol with</div>
<div class="t" style="left:360.50px;top:461.21px;font-size:9.5px;font-family:'Liberation Sans', sans-serif;font-weight:normal;font-style:normal;letter-spacing:0.159px;color:#231f20;">extended magazine and autofire module.</div>
<div class="t" style="left:377.00px;top:481.16px;font-size:10.5px;font-family:'Liberation Serif', serif;font-weight:bold;font-style:normal;letter-spacing:0.730px;color:#1a1718;-webkit-text-stroke:0.3px #1a1718">Damage:</div>
<div class="t" style="left:423.50px;top:480.91px;font-size:9.5px;font-family:'Liberation Sans', sans-serif;font-weight:normal;font-style:normal;letter-spacing:0.330px;color:#231f20;">TN 16, ballistic, autofire +4</div>
<div class="t" style="left:377.00px;top:493.16px;font-size:10.5px;font-family:'Liberation Serif', serif;font-weight:bold;font-style:normal;letter-spacing:0.398px;color:#1a1718;-webkit-text-stroke:0.3px #1a1718">Magazine:</div>
<div class="t" style="left:429.90px;top:492.91px;font-size:9.5px;font-family:'Liberation Sans', sans-serif;font-weight:normal;font-style:normal;letter-spacing:0.222px;color:#231f20;">30 rounds, clip.</div>
<div class="t" style="left:377.00px;top:506.06px;font-size:10.5px;font-family:'Liberation Serif', serif;font-weight:bold;font-style:normal;letter-spacing:0.403px;color:#1a1718;-webkit-text-stroke:0.3px #1a1718">Price:</div>
<div class="t" style="left:408.30px;top:505.81px;font-size:9.5px;font-family:'Liberation Sans', sans-serif;font-weight:normal;font-style:normal;letter-spacing:0.499px;color:#231f20;">Cr600</div>
<div class="t" style="left:360.40px;top:526.27px;font-size:12.5px;font-family:'Liberation Sans', sans-serif;font-weight:bold;font-style:normal;letter-spacing:-0.068px;color:#231f20;">Police Stunner</div>
<div class="t" style="left:360.50px;top:632.71px;font-size:9.5px;font-family:'Liberation Sans', sans-serif;font-weight:normal;font-style:normal;letter-spacing:0.217px;color:#231f20;">Lawmen and women in the Core worlds use heavy duty stunners in</div>
<div class="t" style="left:360.50px;top:644.91px;font-size:9.5px;font-family:'Liberation Sans', sans-serif;font-weight:normal;font-style:normal;letter-spacing:0.163px;color:#231f20;">the course of their duty. It is a standard stunner with heavy calibre,</div>
<div class="t" style="left:360.50px;top:657.31px;font-size:9.5px;font-family:'Liberation Sans', sans-serif;font-weight:normal;font-style:normal;letter-spacing:0.236px;color:#231f20;">magnum and autofire options.</div>
<div class="t" style="left:377.00px;top:677.06px;font-size:10.5px;font-family:'Liberation Serif', serif;font-weight:bold;font-style:normal;letter-spacing:0.730px;color:#1a1718;-webkit-text-stroke:0.3px #1a1718">Damage:</div>
<div class="t" style="left:423.50px;top:676.81px;font-size:9.5px;font-family:'Liberation Sans', sans-serif;font-weight:normal;font-style:normal;letter-spacing:0.357px;color:#231f20;">TN 14, energy, autofire +2</div>
<div class="t" style="left:377.00px;top:689.06px;font-size:10.5px;font-family:'Liberation Serif', serif;font-weight:bold;font-style:normal;letter-spacing:0.398px;color:#1a1718;-webkit-text-stroke:0.3px #1a1718">Magazine:</div>
<div class="t" style="left:429.90px;top:688.81px;font-size:9.5px;font-family:'Liberation Sans', sans-serif;font-weight:normal;font-style:normal;letter-spacing:0.122px;color:#231f20;">1eu/shot.</div>
<div class="t" style="left:377.00px;top:702.06px;font-size:10.5px;font-family:'Liberation Serif', serif;font-weight:bold;font-style:normal;letter-spacing:0.403px;color:#1a1718;-webkit-text-stroke:0.3px #1a1718">Price:</div>
<div class="t" style="left:408.30px;top:701.81px;font-size:9.5px;font-family:'Liberation Sans', sans-serif;font-weight:normal;font-style:normal;letter-spacing:0.499px;color:#231f20;">Cr600</div>
<div class="t" style="left:42.60px;top:872.79px;font-size:11px;font-family:'Liberation Serif', serif;font-weight:normal;font-style:italic;letter-spacing:0.000px;color:#222;-webkit-text-stroke:0">90</div>
</body></html>
